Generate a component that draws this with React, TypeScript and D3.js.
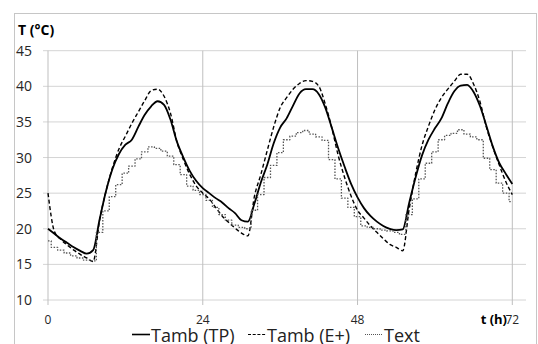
import * as d3 from 'd3';

const WIDTH = 538;
const HEIGHT = 344;
const PLOT = { left: 48, right: 512.3, top: 50.7, bottom: 300 };
const FONT = "'Open Sans', 'Liberation Sans', sans-serif";

// hourly values, t = 0..72 h
const hours = d3.range(0, 73);
const tambTP = [
  20.0, 19.3, 18.6, 18.0, 17.4, 16.9, 16.5, 17.0, 21.3, 25.3,
  28.4, 30.5, 31.8, 32.5, 34.3, 36.0, 37.2, 37.9, 37.4, 35.3,
  32.2, 30.0, 28.1, 26.7, 25.7, 25.0, 24.3, 23.7, 22.9, 22.2,
  21.2, 21.0, 23.5, 26.5, 29.0, 32.0, 34.2, 35.5, 37.3, 39.0,
  39.6, 39.6, 38.9, 37.0, 34.2, 31.3, 28.7, 26.3, 24.4, 22.9,
  21.8, 21.0, 20.4, 20.0, 19.8, 19.9, 23.6, 27.2, 30.3, 32.5,
  34.1, 35.5, 37.6, 39.3, 40.1, 40.2, 39.2, 37.2, 34.4, 31.5,
  29.2, 27.7, 26.3,
];
const tambEP = [
  25.0, 19.6, 18.5, 17.7, 17.0, 16.4, 15.9, 15.4, 21.2, 25.3,
  28.6, 31.2, 33.0, 34.8, 36.4, 38.0, 39.4, 39.6, 38.6, 36.2,
  32.2, 29.7, 27.6, 26.0, 25.0, 24.2, 23.0, 21.8, 20.9, 20.1,
  19.4, 19.0, 24.5, 27.6, 31.0, 34.3, 37.0, 38.4, 39.6, 40.4,
  40.8, 40.7, 40.0, 37.5, 34.2, 30.3, 27.2, 24.6, 22.6, 21.5,
  20.4, 19.5, 18.6, 17.8, 17.4, 16.9, 22.7, 27.7, 31.7, 34.4,
  36.7, 38.4, 39.6, 40.7, 41.7, 41.7, 40.3, 37.8, 34.2, 31.4,
  28.9, 26.6, 24.8,
];
const tExt = [
  18.3, 17.4, 17.0, 16.6, 16.2, 15.9, 15.6, 15.5, 19.5, 22.5,
  24.5, 26.2, 27.8, 28.8, 29.8, 30.8, 31.5, 31.3, 30.9, 30.2,
  29.0, 27.6, 26.0, 25.4, 24.8, 24.0, 23.0, 22.0, 21.2, 20.5,
  20.2, 20.0, 22.6, 24.8, 27.2, 28.9, 30.7, 32.5, 33.0, 33.5,
  33.8, 33.3, 32.9, 32.4, 29.7, 27.0, 24.3, 23.0, 21.7, 20.4,
  20.2, 20.0, 19.8, 19.7, 19.5, 19.2, 22.0, 24.2, 27.0, 29.2,
  30.8, 32.5, 33.1, 33.4, 33.9, 33.3, 32.9, 32.5, 29.9, 28.3,
  26.4, 25.0, 23.8,
];

const xTicks = [0, 24, 48, 72];
const yTicks = [10, 15, 20, 25, 30, 35, 40, 45];
const legendLabels = ['Tamb (TP)', 'Tamb (E+)', 'Text'];

const seriesStyle = [
  { values: tambTP, curve: d3.curveMonotoneX, stroke: '#000', width: 1.8, dash: undefined },
  { values: tambEP, curve: d3.curveMonotoneX, stroke: '#000', width: 1.4, dash: '4 2.5' },
  { values: tExt, curve: d3.curveStep, stroke: '#555', width: 1.3, dash: '1.5 1.5' },
];

export default function App() {
  const x = d3.scaleLinear().domain([0, 72]).range([PLOT.left, PLOT.right]);
  const y = d3.scaleLinear().domain([10, 45]).range([PLOT.bottom, PLOT.top]);

  const legendX = [132, 248, 365];

  return (
    <svg
      width={WIDTH}
      height={HEIGHT}
      style={{ position: 'absolute', left: 0, top: 0, background: '#fff' }}
      fontFamily={FONT}
    >
      {/* chart border */}
      <rect x={14.5} y={13.5} width={522} height={340} fill="none" stroke="#c6c6c6" />

      {/* horizontal grid */}
      {yTicks.map((t) => (
        <g key={'y' + t}>
          <line x1={43} x2={526} y1={y(t)} y2={y(t)} stroke="#d4d4d4" strokeWidth={1} />
          <text x={32} y={y(t)} dy="0.36em" textAnchor="end" fontSize={14} fill="#262626">
            {t}
          </text>
        </g>
      ))}

      {/* vertical grid */}
      {xTicks.map((t) => (
        <g key={'x' + t}>
          <line x1={x(t)} x2={x(t)} y1={PLOT.top} y2={PLOT.bottom + 5} stroke="#bfbfbf" strokeWidth={1} />
          <text x={x(t)} y={324} textAnchor="middle" fontSize={12} fill="#262626">
            {t}
          </text>
        </g>
      ))}

      {/* axis titles */}
      <text x={18} y={35} fontSize={14} fontWeight="bold" fill="#000">
        T (°C)
      </text>
      <text x={507} y={324} textAnchor="end" fontSize={13} fontWeight="bold" fill="#000">
        t (h)
      </text>

      {/* series */}
      {seriesStyle.map((s, i) => {
        const line = d3
          .line<number>()
          .x((d, j) => x(hours[j]))
          .y((d) => y(d))
          .curve(s.curve);
        return (
          <path
            key={i}
            d={line(s.values) || ''}
            fill="none"
            stroke={s.stroke}
            strokeWidth={s.width}
            strokeDasharray={s.dash}
            strokeLinejoin="round"
          />
        );
      })}

      {/* legend */}
      {legendLabels.map((label, i) => (
        <g key={label} transform={`translate(${legendX[i]},0)`}>
          <line
            x1={0}
            x2={18}
            y1={334.5}
            y2={334.5}
            stroke={seriesStyle[i].stroke}
            strokeWidth={i === 0 ? 1.6 : 1.2}
            strokeDasharray={i === 0 ? undefined : i === 1 ? '3 1.7' : '1 1'}
          />
          <text x={19} y={341.5} fontSize={18} fill="#222">
            {label}
          </text>
        </g>
      ))}
    </svg>
  );
}
